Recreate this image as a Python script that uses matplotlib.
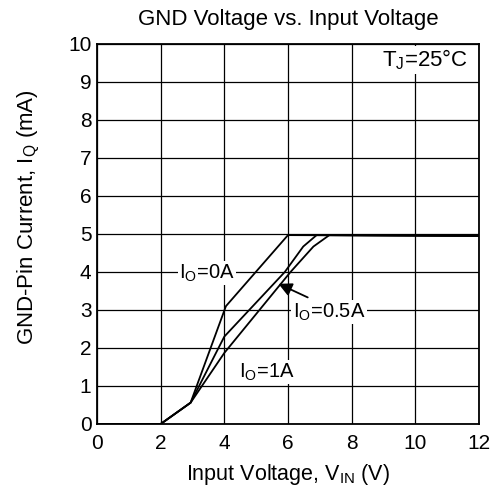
import matplotlib.pyplot as plt

plt.rcParams["font.family"] = ["Liberation Sans", "DejaVu Sans"]

# datos
vin_0a = [0, 2.0, 2.94, 4.05, 6.0, 12.0]
iq_0a = [0, 0, 0.56, 3.1, 4.97, 4.95]

vin_05a = [0, 2.0, 2.94, 4.0, 5.9, 6.48, 6.9, 12.0]
iq_05a = [0, 0, 0.56, 2.3, 4.0, 4.67, 4.97, 4.95]

vin_1a = [0, 2.0, 2.94, 4.0, 6.08, 6.8, 7.3, 12.0]
iq_1a = [0, 0, 0.56, 1.87, 4.0, 4.67, 4.97, 4.95]

xticks = [0, 2, 4, 6, 8, 10, 12]
yticks = list(range(0, 11))

fig = plt.figure(figsize=(4.96, 4.93), dpi=100)
ax = fig.add_axes([0.1956, 0.14, 0.77, 0.7708])

for x, y in [(vin_0a, iq_0a), (vin_05a, iq_05a), (vin_1a, iq_1a)]:
    ax.plot(x, y, color="black", linewidth=1.3, zorder=3)

ax.set_xlim(0, 12)
ax.set_ylim(0, 10)
ax.set_xticks(xticks)
ax.set_yticks(yticks)
ax.tick_params(labelsize=15, length=0)
ax.tick_params(axis="x", pad=7)
ax.tick_params(axis="y", pad=4)
ax.grid(True, color="black", linewidth=0.9)
for s in ax.spines.values():
    s.set_linewidth(1.3)

bbox = dict(facecolor="white", edgecolor="none", pad=1)
ax.text(3.46, 3.97, r"I$_\mathregular{O}$=0A", fontsize=14.5, ha="center",
        va="center", bbox=bbox, zorder=4)
ax.text(6.15, 2.95, r"I$_\mathregular{O}$=0.5A", fontsize=14.5, ha="left",
        va="center", bbox=bbox, zorder=4)
ax.text(4.45, 1.37, r"I$_\mathregular{O}$=1A", fontsize=14.5, ha="left",
        va="center", bbox=bbox, zorder=4)
ax.annotate("", xy=(5.62, 3.72), xytext=(6.7, 3.3),
            arrowprops=dict(arrowstyle="-|>", color="black", lw=1.3,
                            mutation_scale=20), zorder=5)
ax.text(11.65, 9.58, r"T$_\mathregular{J}$=25°C", fontsize=16, ha="right",
        va="center", bbox=bbox, zorder=4)

ax.set_title("GND Voltage vs. Input Voltage", fontsize=16, pad=14)
ax.set_xlabel(r"Input Voltage, V$_\mathregular{IN}$ (V)", fontsize=15.5, labelpad=7)
ax.set_ylabel(r"GND-Pin Current, I$_\mathregular{Q}$ (mA)", fontsize=16)
ax.yaxis.set_label_coords(-0.145, 0.545)

fig.savefig("out.png", dpi=100)
